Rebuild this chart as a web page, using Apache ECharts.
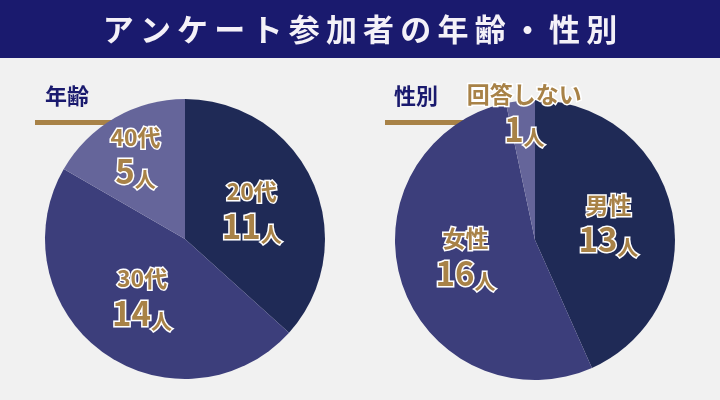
<!DOCTYPE html>
<html lang="ja">
  <head>
    <meta charset="UTF-8" />
    <title>アンケート参加者の年齢・性別</title>
    <script src="https://cdnjs.cloudflare.com/ajax/libs/echarts/6.0.0/echarts.min.js"></script>
    <style>
      html, body { margin: 0; padding: 0; background: #f1f1f1; }
      #main { width: 720px; height: 400px; }
    </style>
  </head>
  <body>
    <div id="main"></div>
    <script>
      // データ
      var titleText = "アンケート参加者の年齢・性別";
      var ageNames = ["20代", "30代", "40代"];
      var ageValues = [11, 14, 5];
      var genderNames = ["男性", "女性", "回答しない"];
      var genderValues = [13, 16, 1];
      var colors = ["#1f2a56", "#3c3e7b", "#65659a"];

      var gold = "#a88247";
      var navy = "#1a1a6e";
      var font = "Noto Sans CJK JP";

      // ラベルのずらし
      var ageOffsets = [[0, 0], [0, -2], [-13, -21]];
      var genderOffsets = [[2, -2], [0, -6], [-3, -55]];

      function makeData(names, values, offsets) {
        return names.map(function (n, i) {
          return {
            name: n,
            value: values[i],
            itemStyle: { color: colors[i] },
            label: { offset: offsets[i] },
          };
        });
      }

      function rs(size, lh) {
        return { fontSize: size, fontWeight: "bold", color: gold, textBorderColor: "#fff", textBorderWidth: 3, lineHeight: lh, fontFamily: font };
      }

      var labelStyle = {
        show: true,
        position: "inside",
        formatter: function (p) {
          return "{a|" + p.name + "}\n{b|" + p.value + "}{c|人}";
        },
        color: gold,
        textBorderColor: "#fff",
        textBorderWidth: 3,
        fontWeight: "bold",
        fontFamily: font,
        rich: {
          a: rs(23, 34),
          b: rs(33, 36),
          c: Object.assign(rs(21, 36), { verticalAlign: "bottom" }),
        },
      };

      var myChart = echarts.init(document.getElementById("main"));
      var option = {
        backgroundColor: "#f1f1f1",
        animation: false,
        title: {
          // 文字間を少し空ける
          text: titleText.split("").join("\u2009"),
          left: "center",
          top: 9,
          textStyle: {
            color: "#f4f1f8",
            fontSize: 31,
            fontWeight: "bold",
            fontFamily: font,
          },
          z: 10,
        },
        graphic: [
          { type: "rect", shape: { x: 0, y: 0, width: 720, height: 58 }, style: { fill: navy }, z: 0 },
          { type: "rect", shape: { x: 35, y: 120, width: 120, height: 5 }, style: { fill: gold }, z: 0 },
          { type: "rect", shape: { x: 385, y: 120, width: 120, height: 5 }, style: { fill: gold }, z: 0 },
          {
            type: "text", left: 45, top: 85, z: 0,
            style: { text: "年齢", fill: navy, fontSize: 22, fontWeight: "bold", fontFamily: font },
          },
          {
            type: "text", left: 394, top: 85, z: 0,
            style: { text: "性別", fill: navy, fontSize: 22, fontWeight: "bold", fontFamily: font },
          },
        ],
        series: [
          {
            type: "pie",
            center: [185, 239],
            radius: [0, 140],
            startAngle: 90,
            clockwise: true,
            silent: true,
            z: 5,
            label: labelStyle,
            labelLine: { show: false },
            data: makeData(ageNames, ageValues, ageOffsets),
          },
          {
            type: "pie",
            center: [535, 240],
            radius: [0, 140],
            startAngle: 90,
            clockwise: true,
            silent: true,
            z: 5,
            label: labelStyle,
            labelLine: { show: false },
            data: makeData(genderNames, genderValues, genderOffsets),
          },
        ],
      };
      myChart.setOption(option);
    </script>
  </body>
</html>
